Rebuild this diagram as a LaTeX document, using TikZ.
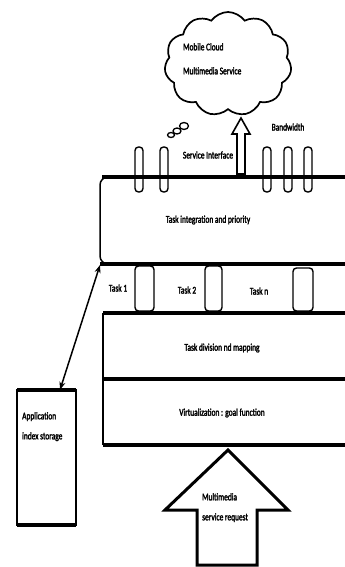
\documentclass[tikz,border=0pt]{standalone}
\usepackage{fontspec}
\newfontfamily\diagfont[FakeStretch=0.72,FakeBold=2.2]{Carlito}
\usepackage{tikz}
\usetikzlibrary{shapes.symbols,arrows.meta}

\tikzset{
  layerline/.style={line width=3.4pt},
  edgeline/.style={line width=1.5pt},
  pill/.style={line width=1.4pt,rounded corners=3.5pt},
  lbl/.style={font=\diagfont\fontsize{10.3}{12}\selectfont,inner sep=0pt}
}

\begin{document}
\begin{tikzpicture}[x=1pt,y=-1pt]
        \useasboundingbox (0,0) rectangle (345,567);

        % Cloud
        \node[cloud,draw,line width=1.7pt,cloud puffs=11,cloud puff arc=110,aspect=1.25,
              minimum width=127pt,minimum height=104pt,inner sep=0pt] (cloud) at (228,64) {};
        \node[lbl,align=left,anchor=north west] (cloudtxt) at (183,43)
              {Mobile Cloud\\[12pt]Multimedia Service};
        \draw[line width=1.3pt] (184,126) ellipse (4.5pt and 3.5pt);
        \draw[line width=1.3pt] (177,131) ellipse (4pt and 3pt);
        \draw[line width=1.3pt] (171,135) ellipse (3.5pt and 2.5pt);

        % Service interface arrow
        \draw[line width=1.6pt,line join=miter]
            (237,174) -- (237,134) -- (232,134) -- (241,118) -- (250,134)
            -- (245,134) -- (245,174) -- cycle;
        \node[lbl] (sintf) at (208,155) {Service Interface};
        \node[lbl] (bw) at (288,127) {Bandwidth};

        % Layers
        \draw[edgeline,rounded corners=8pt] (110,177) -- (100,177) -- (100,264) -- (110,264);
        \draw[layerline] (102,177) -- (345,177);
        \draw[layerline] (100,264) -- (345,264);
        \draw[edgeline] (103,313) -- (103,445);
        \draw[layerline] (103,313) -- (345,313);
        \draw[layerline] (103,379) -- (345,379);
        \draw[layerline] (103,445) -- (345,445);

        % Bandwidth pills
        \foreach \px in {139,164,267,288,308}
            \draw[pill] (\px-4,147) rectangle (\px+4,192);

        % Task pills
        \draw[pill] (135,266) rectangle (154,311);
        \draw[pill] (205,266) rectangle (222,311);
        \draw[pill] (293,268) rectangle (313,311);

        \node[lbl] (layer1) at (208,220) {Task integration and priority};
        \node[lbl] (task1) at (118,288) {Task 1};
        \node[lbl] (task2) at (187,290) {Task 2};
        \node[lbl] (taskn) at (259,291) {Task n};
        \node[lbl] (layer2) at (222,348) {Task division nd mapping};
        \node[lbl] (layer3) at (222,413) {Virtualization : goal function};

        % Storage
        \draw[edgeline] (17,390) rectangle (76,525);
        \draw[layerline] (17,390) -- (76,390);
        \draw[layerline] (17,525) -- (76,525);
        \node[minimum width=59pt,minimum height=135pt,inner sep=0pt] (store) at (46.5,457.5) {};
        \node[lbl,align=left,anchor=north west] (storetxt) at (22,412)
              {Application\\[8pt]index storage};
        \coordinate (corner) at (100,265);
        \draw[line width=1.5pt,{Stealth[length=8pt,width=6pt]}-{Stealth[length=8pt,width=6pt]}]
            (corner) -- (store.north -| 60,0);

        % Request arrow
        \draw[line width=3pt,line join=miter]
            (197,565) -- (197,510) -- (165,510) -- (228,450) -- (288,510)
            -- (257,510) -- (257,565) -- cycle;
        \node[lbl,align=left,anchor=north west] (req) at (202,493)
              {Multimedia\\[8pt]service request};

\end{tikzpicture}
\end{document}
